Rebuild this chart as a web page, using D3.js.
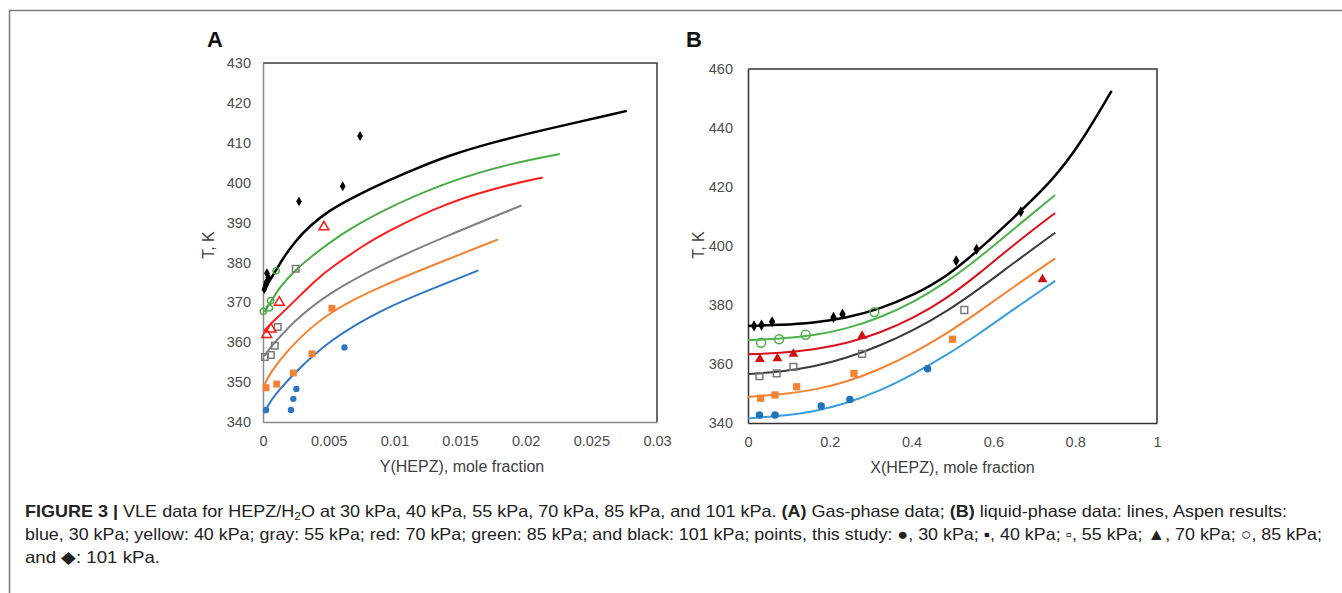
<!DOCTYPE html>
<html>
<head>
<meta charset="utf-8">
<script src="https://cdn.jsdelivr.net/npm/d3@7"></script>
<style>
  body { margin: 0; background: #fff; }
  svg { display: block; }
  .tick text { font-family: "Liberation Sans", Arial, sans-serif; font-size: 14.5px; fill: #4d4d4d; }
</style>
</head>
<body>
<script>
// ---- panel A: gas phase, Y(HEPZ) vs T ----
var gasLine30 = [[0.0001,342.2],[0.0005,345],[0.0013,348.3],[0.0026,353],[0.0051,360.6],[0.0089,368],[0.0127,373.2],[0.0164,378]];
var gasLine40 = [[0.0001,349.2],[0.0005,352],[0.0013,355.6],[0.0026,360.6],[0.0051,367.8],[0.0089,374],[0.014,380.7],[0.0179,385.8]];
var gasLine55 = [[0.0001,356.5],[0.0005,358.5],[0.0013,361.4],[0.0026,366],[0.0051,372.5],[0.0089,379.3],[0.014,386.7],[0.0197,394.3]];
var gasLine70 = [[0.0001,362.8],[0.0005,364.4],[0.0013,366.8],[0.0026,371],[0.004,375.5],[0.0052,378.8],[0.0077,384.3],[0.0089,386.8],[0.014,395.2],[0.0191,399.8],[0.0213,401.3]];
var gasLine85 = [[0.0001,367.5],[0.0007,370.7],[0.0013,374],[0.0025,378.2],[0.0038,381.8],[0.0058,386.8],[0.0089,392.8],[0.014,400.3],[0.0191,405],[0.0226,407.2]];
var gasLine101 = [[0.0001,373],[0.0005,375.5],[0.001,378],[0.0015,381],[0.0025,385.5],[0.0035,389],[0.005,393],[0.007,396.6],[0.0095,400.5],[0.0115,403.3],[0.014,406.7],[0.0178,410.4],[0.0216,413.4],[0.0277,418]];

var gasPts30 = [[0.00023,343],[0.00213,343],[0.00231,345.8],[0.00254,348.3],[0.0062,358.7]];
var gasPts40 = [[0.00023,348.6],[0.00104,349.5],[0.00231,352.3],[0.00373,357.1],[0.00525,368.5]];
var gasPts55 = [[0.00015,356.3],[0.0006,356.8],[0.0009,359.1],[0.00112,363.8],[0.00249,378.4]];
var gasPts70 = [[0.00028,361.9],[0.00061,363.3],[0.00124,370],[0.00464,388.9]];
var gasPts85 = [[0.00003,367.7],[0.00048,368.6],[0.00058,370.4],[0.001,377.9]];
var gasPts101 = [[0.0001,373.3],[0.0002,374.2],[0.0003,375.3],[0.0004,376.3],[0.0003,377.3],[0.00025,374.8],[0.00274,395.3],[0.00607,399.1],[0.00739,411.7]];

// ---- panel B: liquid phase, X(HEPZ) vs T ----
var liqLine30 = [[0,341.6],[0.078,342.3],[0.16,343.8],[0.241,346.6],[0.323,350.9],[0.404,356.5],[0.486,363],[0.567,370.4],[0.649,378.5],[0.751,388.2]];
var liqLine40 = [[0,348.9],[0.078,349.6],[0.16,351.1],[0.241,353.9],[0.323,358.2],[0.404,363.7],[0.486,370.3],[0.567,377.9],[0.649,386.1],[0.751,395.8]];
var liqLine55 = [[0,356.6],[0.078,357.3],[0.16,359],[0.241,362],[0.323,366.2],[0.404,371.4],[0.486,377.8],[0.567,385.6],[0.649,394.2],[0.751,404.5]];
var liqLine70 = [[0,363.3],[0.078,363.7],[0.16,364.8],[0.241,367],[0.323,370.5],[0.404,375.5],[0.486,382.2],[0.567,390.8],[0.649,400.4],[0.751,411.2]];
var liqLine85 = [[0,368.1],[0.078,368.5],[0.16,369.6],[0.241,371.9],[0.323,375.7],[0.404,380.9],[0.486,387.7],[0.567,396.2],[0.649,405.7],[0.751,417.3]];
var liqLine101 = [[0,372.9],[0.078,373.2],[0.16,373.9],[0.241,375.6],[0.323,378.7],[0.404,383.3],[0.486,389.6],[0.567,399],[0.649,409.5],[0.746,422.4],[0.812,434.5],[0.889,452.6]];

var liqPts30 = [[0.028,342.7],[0.066,342.7],[0.179,345.8],[0.249,348],[0.439,358.4]];
var liqPts40 = [[0.031,348.4],[0.066,349.5],[0.119,352.3],[0.259,356.8],[0.5,368.4]];
var liqPts55 = [[0.028,355.9],[0.07,356.8],[0.111,359],[0.279,363.4],[0.529,378.3]];
var liqPts70 = [[0.029,361.6],[0.072,361.9],[0.111,363.4],[0.279,369.5],[0.72,388.7]];
var liqPts85 = [[0.032,367.2],[0.076,368.4],[0.141,369.9],[0.309,377.6]];
var liqPts101 = [[0.0147,372.9],[0.033,373.2],[0.059,374.3],[0.209,375.8],[0.231,376.9],[0.509,395],[0.559,398.9],[0.667,411.6]];

// ticks
var gasXTicks = [0, 0.005, 0.01, 0.015, 0.02, 0.025, 0.03];
var gasYTicks = [340, 350, 360, 370, 380, 390, 400, 410, 420, 430];
var liqXTicks = [0, 0.2, 0.4, 0.6, 0.8, 1];
var liqYTicks = [340, 360, 380, 400, 420, 440, 460];

var width = 1342, height = 593;
var svg = d3.select("body").append("svg")
	.attr("width", width)
	.attr("height", height);

// page frame
svg.append("path")
	.attr("d", "M9.5,593V10.5H1342")
	.attr("fill", "none")
	.attr("stroke", "#7a7a7a")
	.attr("stroke-width", 1.5);

function draw_panel(p) {
	var x = d3.scaleLinear().domain(p.xDomain).range([p.left, p.right]);
	var y = d3.scaleLinear().domain(p.yDomain).range([p.bottom, p.top]);
	var g = svg.append("g");

	// plot box
	g.append("path")
		.attr("d", "M" + p.left + "," + p.top + "H" + p.right + "V" + p.bottom)
		.attr("fill", "none").attr("stroke", p.boxColour).attr("stroke-width", 1.5);

	var xAxis = g.append("g")
		.attr("transform", "translate(0," + p.bottom + ")")
		.call(d3.axisBottom(x).tickValues(p.xTicks).tickSize(0).tickPadding(14)
			.tickFormat(function(d) { return String(d); }));
	var yAxis = g.append("g")
		.attr("transform", "translate(" + p.left + ",0)")
		.call(d3.axisLeft(y).tickValues(p.yTicks).tickSize(0).tickPadding(p.yPad));
	xAxis.select(".domain").attr("stroke", p.axisColour).attr("stroke-width", 1.5);
	yAxis.select(".domain").attr("stroke", p.axisColour).attr("stroke-width", 1.5);

	var line = d3.line()
		.x(function(d) { return x(d[0]); })
		.y(function(d) { return y(d[1]); })
		.curve(d3.curveBasis);

	p.lines.forEach(function(s) {
		g.append("path")
			.attr("d", line(s.data))
			.attr("fill", "none")
			.attr("stroke", s.colour)
			.attr("stroke-width", s.width);
	});

	p.points.forEach(function(s) {
		g.selectAll(null)
			.data(s.data)
			.enter().append("path")
			.attr("transform", function(d) { return "translate(" + x(d[0]) + "," + y(d[1]) + ")"; })
			.attr("d", d3.symbol().type(s.symbol).size(s.size))
			.attr("fill", s.open ? "none" : s.colour)
			.attr("stroke", s.open ? s.colour : "none")
			.attr("stroke-width", 1.5);
	});

	g.append("text")
		.attr("x", p.panelX).attr("y", 47)
		.attr("font-family", "Liberation Sans, Arial, sans-serif")
		.attr("font-weight", "bold").attr("font-size", 22)
		.attr("fill", "#111")
		.text(p.name);

	g.append("text")
		.attr("x", (p.left + p.right) / 2 + p.xTitleShift).attr("y", p.bottom + 50)
		.attr("text-anchor", "middle")
		.attr("font-family", "Liberation Sans, Arial, sans-serif")
		.attr("font-size", 16).attr("fill", "#404040")
		.text(p.xTitle);

	g.append("text")
		.attr("transform", "translate(" + p.yTitleX + ",245) rotate(-90)")
		.attr("text-anchor", "middle")
		.attr("font-family", "Liberation Sans, Arial, sans-serif")
		.attr("font-size", 16).attr("fill", "#404040")
		.text("T, K");
}

draw_panel({
	name: "A", panelX: 207,
	xDomain: [0, 0.03], yDomain: [340, 430],
	left: 263, right: 657, top: 63, bottom: 422,
	xTicks: gasXTicks, yTicks: gasYTicks, yPad: 12,
	boxColour: "#3a3a3a", axisColour: "#8a8a8a",
	xTitle: "Y(HEPZ), mole fraction", xTitleShift: 2, yTitleX: 214,
	lines: [
		{ data: gasLine30, colour: "#2e75c6", width: 2 },
		{ data: gasLine40, colour: "#f58232", width: 2 },
		{ data: gasLine55, colour: "#808080", width: 2 },
		{ data: gasLine70, colour: "#ff1a1a", width: 2 },
		{ data: gasLine85, colour: "#4aab46", width: 2 },
		{ data: gasLine101, colour: "#000", width: 2.5 }
	],
	points: [
		{ data: gasPts30, colour: "#2e75c6", symbol: d3.symbolCircle, size: 32, open: false },
		{ data: gasPts40, colour: "#f58232", symbol: d3.symbolSquare, size: 48, open: false },
		{ data: gasPts55, colour: "#7a7a7a", symbol: d3.symbolSquare, size: 42, open: true },
		{ data: gasPts70, colour: "#ff1a1a", symbol: d3.symbolTriangle, size: 42, open: true },
		{ data: gasPts85, colour: "#4aab46", symbol: d3.symbolCircle, size: 32, open: true },
		{ data: gasPts101, colour: "#000", symbol: d3.symbolDiamond, size: 28, open: false }
	]
});

draw_panel({
	name: "B", panelX: 686,
	xDomain: [0, 1], yDomain: [340, 460],
	left: 748, right: 1157, top: 69, bottom: 423,
	xTicks: liqXTicks, yTicks: liqYTicks, yPad: 15,
	boxColour: "#333", axisColour: "#333",
	xTitle: "X(HEPZ), mole fraction", xTitleShift: 0, yTitleX: 704,
	lines: [
		{ data: liqLine30, colour: "#3a9fd9", width: 2 },
		{ data: liqLine40, colour: "#f58232", width: 2 },
		{ data: liqLine55, colour: "#3b3b3b", width: 2 },
		{ data: liqLine70, colour: "#d8101c", width: 2 },
		{ data: liqLine85, colour: "#4cb34a", width: 2 },
		{ data: liqLine101, colour: "#000", width: 2.5 }
	],
	points: [
		{ data: liqPts30, colour: "#2072bd", symbol: d3.symbolCircle, size: 44, open: false },
		{ data: liqPts40, colour: "#f58232", symbol: d3.symbolSquare, size: 52, open: false },
		{ data: liqPts55, colour: "#7a7a7a", symbol: d3.symbolSquare, size: 46, open: true },
		{ data: liqPts70, colour: "#d00d12", symbol: d3.symbolTriangle, size: 42, open: false },
		{ data: liqPts85, colour: "#4cb34a", symbol: d3.symbolCircle, size: 62, open: true },
		{ data: liqPts101, colour: "#000", symbol: d3.symbolDiamond, size: 36, open: false }
	]
});

// caption
var capFont = "Liberation Sans, Arial, sans-serif";
var cap1 = svg.append("text").attr("x", 25).attr("y", 517)
	.attr("font-family", capFont).attr("font-size", 16.5).attr("fill", "#222")
	.attr("textLength", 1262).attr("lengthAdjust", "spacingAndGlyphs");
cap1.append("tspan").attr("font-weight", "bold").text("FIGURE 3 | ");
cap1.append("tspan").text("VLE data for HEPZ/H");
cap1.append("tspan").attr("font-size", 11).attr("dy", 3).text("2");
cap1.append("tspan").attr("dy", -3).text("O at 30 kPa, 40 kPa, 55 kPa, 70 kPa, 85 kPa, and 101 kPa. ");
cap1.append("tspan").attr("font-weight", "bold").text("(A)");
cap1.append("tspan").text(" Gas-phase data; ");
cap1.append("tspan").attr("font-weight", "bold").text("(B)");
cap1.append("tspan").text(" liquid-phase data: lines, Aspen results:");

svg.append("text").attr("x", 25).attr("y", 540)
	.attr("font-family", capFont).attr("font-size", 16.5).attr("fill", "#222")
	.attr("textLength", 1297).attr("lengthAdjust", "spacingAndGlyphs")
	.text("blue, 30 kPa; yellow: 40 kPa; gray: 55 kPa; red: 70 kPa; green: 85 kPa; and black: 101 kPa; points, this study: \u25CF, 30 kPa; \u25AA, 40 kPa; \u25AB, 55 kPa; \u25B2, 70 kPa; \u25CB, 85 kPa;");

svg.append("text").attr("x", 25).attr("y", 563)
	.attr("font-family", capFont).attr("font-size", 16.5).attr("fill", "#222")
	.attr("textLength", 135).attr("lengthAdjust", "spacingAndGlyphs")
	.text("and \u25C6: 101 kPa.");
</script>
</body>
</html>
